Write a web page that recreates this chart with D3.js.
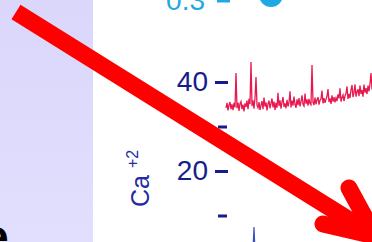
<!DOCTYPE html>
<html>
<head>
<meta charset="utf-8">
<script src="https://cdn.jsdelivr.net/npm/d3@7"></script>
<style>
body { margin: 0; background: #fff; }
.container { width: 372px; height: 242px; overflow: hidden; }
</style>
</head>
<body>
<div class="container"></div>
<script>
const wd = 372
const ht = 242

// red Ca+2 trace, one sample per step
const caVals = [
  34.2, 35.3, 33.6, 34.8, 35.5, 33.9, 35.0, 33.7, 35.3, 34.3,
  42.0, 34.1, 35.4, 33.5, 35.1, 35.6, 33.9, 34.9, 33.4, 35.2,
  34.4, 35.8, 33.9, 36.2, 35.0, 44.5, 34.6, 35.9, 34.0, 36.4,
  41.1, 34.8, 34.2, 35.5, 33.7, 34.8, 35.7, 33.9, 36.5, 34.5,
  35.4, 33.6, 35.1, 35.8, 34.1, 35.2, 36.3, 34.3, 35.6, 33.7,
  35.3, 34.2, 37.6, 34.6, 35.9, 34.0, 35.5, 36.6, 34.4, 35.2,
  34.1, 36.0, 34.5, 35.4, 37.9, 34.3, 35.8, 34.7, 36.7, 35.0,
  34.2, 36.1, 34.8, 36.4, 34.5, 35.6, 37.0, 35.0, 34.6, 37.4,
  35.1, 36.1, 34.7, 36.2, 35.2, 34.9, 43.8, 35.4, 34.8, 36.5,
  35.0, 36.0, 36.6, 34.9, 35.9, 36.2, 38.1, 35.2, 36.4, 35.3,
  36.1, 36.8, 38.4, 35.5, 36.3, 35.1, 37.0, 35.6, 36.6, 35.4,
  36.4, 35.7, 37.2, 36.3, 38.6, 35.6, 36.5, 37.1, 35.7, 36.9,
  37.4, 39.0, 36.2, 37.3, 36.4, 38.2, 39.3, 36.6, 37.6, 39.5,
  36.7, 37.8, 38.4, 36.8, 39.2, 37.3, 38.2, 36.7, 39.4, 37.6,
  38.6, 37.3, 39.2, 37.9, 39.6, 42.0, 38.3
]

// blue trace below (mostly off the bottom edge)
const blueT = [0, 10, 20, 27, 28, 29, 40, 60, 80, 100, 120, 135, 140, 141, 142, 146]
const blueV = [1.8, 2.2, 1.6, 2.4, 7.4, 2.0, 1.9, 2.3, 1.7, 2.1, 2.5, 2.6, 5.3, 2.4, 2.8, 3.0]

const caTicks = [10, 20, 30, 40]
const caLabels = [20, 40]

// cyan panel above
const cyanTicks = [0.3]
const cyanPt = [{t: 45, v: 0.317}]

const svgC = d3.select(".container")
.append("svg")
.attr("width", wd)
.attr("height", ht)
.style("font-family", "'Liberation Sans', Arial, sans-serif")

// lavender side panel
const grad = svgC.append("defs").append("linearGradient")
.attr("id", "lav").attr("x1", 0).attr("y1", 0).attr("x2", 0).attr("y2", 1)
grad.append("stop").attr("offset", 0).attr("stop-color", "#dbd7fb")
grad.append("stop").attr("offset", 1).attr("stop-color", "#e2defd")

svgC.append("rect")
.attr("x", 0).attr("y", 0)
.attr("width", 93).attr("height", ht)
.attr("fill", "url(#lav)")

svgC.append("text")
.attr("x", -18).attr("y", 253)
.attr("font-size", 48).attr("font-weight", "bold")
.attr("fill", "#000")
.text("e")

const xScale = d3.scaleLinear()
.domain([0, caVals.length - 1])
.range([226, 372])

const yScale = d3.scaleLinear()
.domain([0, 40])
.range([260, 82])

const cyanY = d3.scaleLinear()
.domain([0.2, 0.3])
.range([33, 0.5])

// Ca axis
const navy = "#171c8c"
const yAxis = svgC.append("g")
.attr("transform", "translate(228,0)")
.call(d3.axisLeft(yScale)
  .tickValues(caTicks)
  .tickSize(13)
  .tickPadding(7)
  .tickFormat(d => caLabels.includes(d) ? d : ""))

yAxis.select(".domain").remove()
yAxis.selectAll(".tick line")
.attr("stroke", navy)
.attr("stroke-width", 3)
.filter(d => !caLabels.includes(d))
.attr("x1", -1).attr("x2", -10)
yAxis.selectAll(".tick text")
.attr("fill", navy)
.attr("font-size", 28)
.attr("font-family", "'Liberation Sans', Arial, sans-serif")

// axis title Ca+2
svgC.append("text")
.attr("transform", "translate(149,207) rotate(-90)")
.attr("font-size", 25)
.attr("fill", "#1f2ca4")
.text("Ca")
svgC.append("text")
.attr("transform", "translate(138,168) rotate(-90)")
.attr("font-size", 16)
.attr("fill", "#1f2ca4")
.text("+2")

// cyan axis fragment
const cyan = "#1fa9e2"
const cAxis = svgC.append("g")
.attr("transform", "translate(230,0)")
.call(d3.axisLeft(cyanY)
  .tickValues(cyanTicks)
  .tickSize(13)
  .tickPadding(12)
  .tickFormat(d3.format(".1f")))
cAxis.select(".domain").remove()
cAxis.selectAll(".tick line").attr("stroke", cyan).attr("stroke-width", 3)
cAxis.selectAll(".tick text")
.attr("fill", cyan)
.attr("font-size", 28)
.attr("font-family", "'Liberation Sans', Arial, sans-serif")

svgC.selectAll(".cyanpt")
.data(cyanPt)
.enter().append("circle")
.attr("cx", d => xScale(d.t))
.attr("cy", d => cyanY(d.v))
.attr("r", 12)
.attr("fill", cyan)

const lineFunc = d3.line()
.x((d, i) => xScale(i))
.y(d => yScale(d))
.curve(d3.curveLinear)

svgC.append("path")
.attr("d", lineFunc(caVals))
.attr("fill", "none")
.attr("stroke", "#e8194f")
.attr("stroke-width", 1.3)

const blueLine = d3.line()
.x((d, i) => xScale(blueT[i]))
.y(d => yScale(d))

svgC.append("path")
.attr("d", blueLine(blueV))
.attr("fill", "none")
.attr("stroke", "#3a4fc4")
.attr("stroke-width", 1.2)

// big red arrow on top
const tip = [375, 236]
const arrow = svgC.append("g")
.attr("stroke", "#fe0000")
.attr("stroke-width", 17)
.attr("fill", "none")
arrow.append("line")
.attr("x1", 16).attr("y1", 12)
.attr("x2", tip[0]).attr("y2", tip[1])
.attr("stroke-linecap", "butt")
arrow.append("path")
.attr("d", "M349,188L" + tip[0] + "," + tip[1] + "L323,224")
.attr("stroke-linecap", "round")
.attr("stroke-linejoin", "round")
</script>
</body>
</html>
